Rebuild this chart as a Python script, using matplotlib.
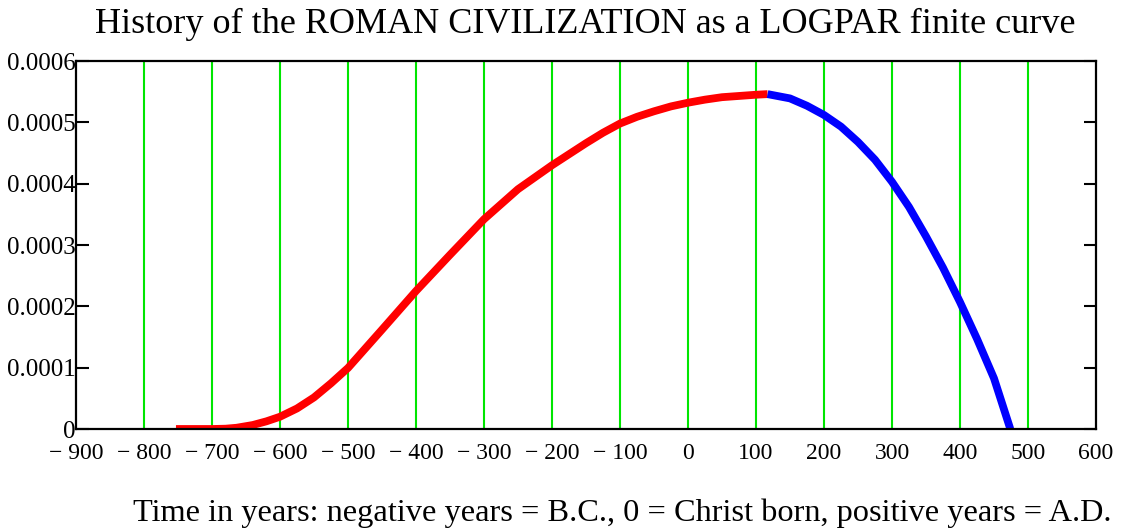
import matplotlib
matplotlib.use("Agg")
import matplotlib.pyplot as plt
from matplotlib.ticker import FuncFormatter

# =========== Data =====================================

# rising part (red), years and relative intensity
RED_YEARS = [-753, -700, -680, -664, -640, -620, -600, -575, -550, -525,
             -500, -450, -400, -350, -300, -250, -200, -175, -150, -125,
             -100, -75, -50, -25, 0, 25, 50, 75, 100, 117]
RED_VALUES = [0.0, 0.0, 0.0000005, 0.000002, 0.0000065, 0.0000125, 0.00002,
              0.0000335, 0.0000515, 0.0000745, 0.0000995, 0.000162, 0.000225,
              0.000284, 0.000342, 0.000391, 0.00043, 0.000448, 0.000466,
              0.000483, 0.000498, 0.000509, 0.000518, 0.000526, 0.000532,
              0.000537, 0.000541, 0.000543, 0.000545, 0.000546]

# falling part (blue)
BLUE_YEARS = [117, 150, 175, 200, 225, 250, 275, 300, 325, 350, 375, 400,
              425, 450, 474]
BLUE_VALUES = [0.000546, 0.000539, 0.000527, 0.000512, 0.000493, 0.000468,
               0.000439, 0.000403, 0.000362, 0.000314, 0.000263, 0.000207,
               0.000147, 0.0000826, 0.0]

X_TICKS = list(range(-900, 601, 100))
Y_TICKS = [0, 0.0001, 0.0002, 0.0003, 0.0004, 0.0005, 0.0006]
Y_LABELS = ["0", "0.0001", "0.0002", "0.0003", "0.0004", "0.0005", "0.0006"]

TITLE = "History of the ROMAN CIVILIZATION as a LOGPAR finite curve"
XLABEL = ("Time in years: negative years = B.C., 0 = Christ born, "
          "positive years = A.D.")

# =========== Plot ============

plt.rcParams["font.family"] = ["Liberation Serif", "DejaVu Serif"]

fig = plt.figure(figsize=(11.23, 5.29), dpi=100)
ax = fig.add_axes([76 / 1123, 1 - 429 / 529, 1020 / 1123, 368 / 529])

# green vertical grid lines at the hundreds
for x in X_TICKS[1:-1]:
    ax.axvline(x, color="#00e600", linewidth=1.5, zorder=1)

ax.plot(RED_YEARS, RED_VALUES, color="#ff0000", linewidth=5.6,
        solid_capstyle="butt", solid_joinstyle="round", zorder=3)
ax.plot(BLUE_YEARS, BLUE_VALUES, color="#0000ff", linewidth=5.6,
        solid_capstyle="butt", solid_joinstyle="round", zorder=3)

ax.set_xlim(-900, 600)
ax.set_ylim(0, 0.0006)

ax.set_xticks(X_TICKS)
ax.xaxis.set_major_formatter(
    FuncFormatter(lambda v, p: f"\u2212 {abs(int(v))}" if v < 0 else f"{int(v)}"))
ax.tick_params(axis="x", length=0, pad=10, labelsize=17)

ax.set_yticks(Y_TICKS)
ax.set_yticklabels(Y_LABELS)
ax.tick_params(axis="y", direction="in", length=9, width=1.5, pad=0,
               labelsize=18, right=True)

for s in ax.spines.values():
    s.set_linewidth(1.6)
    s.set_zorder(4)

fig.text(585 / 1123, 1 - 24 / 529, TITLE, ha="center", va="center", fontsize=26)
fig.text(622 / 1123, 1 - 513 / 529, XLABEL, ha="center", va="center",
         fontsize=23.3)

fig.savefig("out.png", dpi=100)
